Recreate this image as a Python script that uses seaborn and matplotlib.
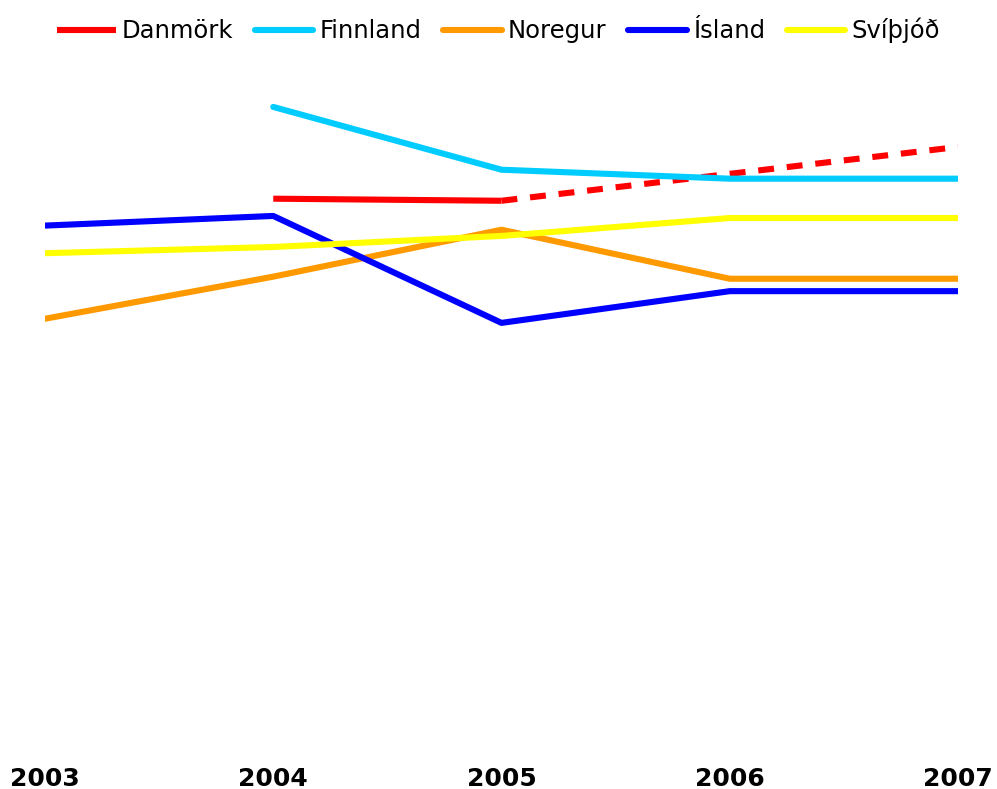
import matplotlib
matplotlib.use("Agg")
import matplotlib.pyplot as plt
import seaborn as sns
import pandas as pd

years = [2003, 2004, 2005, 2006, 2007]
danmork = [None, 79.9, 79.6, 83.5, 87.4]
finnland = [None, 93.2, 84.1, 82.8, 82.8]
noregur = [62.5, 68.6, 75.4, 68.3, 68.3]
island = [76.0, 77.4, 61.9, 66.5, 66.5]
svithjod = [72.0, 72.9, 74.5, 77.1, 77.1]

names = ["Danmörk", "Finnland", "Noregur", "Ísland", "Svíþjóð"]
colors = ["#ff0000", "#00ccff", "#ff9900", "#0000ff", "#ffff00"]

sns.set_style("white")
plt.rcParams['font.family'] = ['DejaVu Sans']
plt.rcParams['text.color'] = 'black'
plt.rcParams['xtick.color'] = 'black'

fig = plt.figure(figsize=(9.97, 7.89), dpi=100)
ax = fig.add_axes([45/997, 39/789, (958-45)/997, (729-39)/789])

lw = 4.4
df_dk = pd.DataFrame({"year": years, "v": danmork}).dropna()
solid = df_dk[df_dk["year"] <= 2005]
dashed = df_dk[df_dk["year"] >= 2005]
sns.lineplot(data=solid, x="year", y="v", color=colors[0], linewidth=lw, ax=ax,
             label=names[0], solid_capstyle="butt")
sns.lineplot(data=dashed, x="year", y="v", color=colors[0], linewidth=lw, ax=ax,
             dashes=False, linestyle=(0, (2.6, 2.1)), dash_capstyle="butt")

for name, vals, c in zip(names[1:], [finnland, noregur, island, svithjod], colors[1:]):
    d = pd.DataFrame({"year": years, "v": vals}).dropna()
    sns.lineplot(data=d, x="year", y="v", color=c, linewidth=lw, ax=ax, label=name,
                 solid_capstyle="round")

ax.set_xlim(2003, 2007)
ax.set_ylim(0, 100)
ax.set_xticks(years)
ax.set_xticklabels([str(y) for y in years], fontsize=18, fontweight="bold", color="black")
ax.tick_params(axis="x", length=0, pad=12)
ax.set_yticks([])
ax.set_xlabel("")
ax.set_ylabel("")
for s in ax.spines.values():
    s.set_visible(False)

handles, labels = ax.get_legend_handles_labels()
ax.legend_.remove()
leg = fig.legend(handles, labels, loc="upper center", bbox_to_anchor=(0.5, 1.005), ncol=5,
                 frameon=False, fontsize=17.5, handlelength=2.4, handletextpad=0.25,
                 columnspacing=0.9)
for t in leg.get_texts():
    t.set_color("black")

fig.savefig("out.png", dpi=100)
